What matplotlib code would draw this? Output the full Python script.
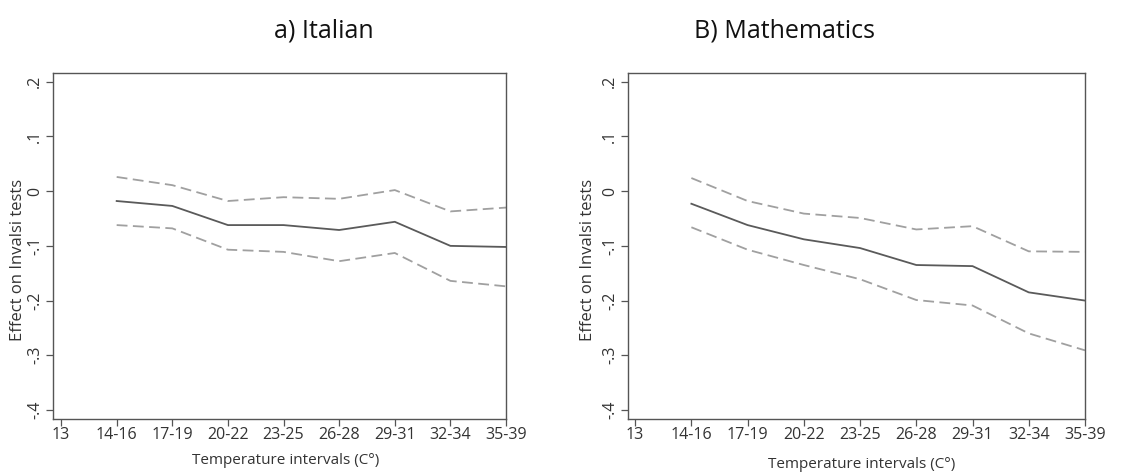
import matplotlib
matplotlib.use("Agg")
import matplotlib.pyplot as plt

categories = ["13", "14-16", "17-19", "20-22", "23-25", "26-28", "29-31", "32-34", "35-39"]
yticks = [0.2, 0.1, 0.0, -0.1, -0.2, -0.3, -0.4]
ytick_labels = [".2", ".1", "0", "-.1", "-.2", "-.3", "-.4"]

ita_est = [-0.018, -0.027, -0.062, -0.062, -0.071, -0.056, -0.100, -0.102]
ita_hi = [0.026, 0.011, -0.018, -0.011, -0.014, 0.002, -0.037, -0.030]
ita_lo = [-0.062, -0.068, -0.107, -0.111, -0.128, -0.113, -0.164, -0.174]

mat_est = [-0.023, -0.062, -0.088, -0.104, -0.135, -0.137, -0.185, -0.200]
mat_hi = [0.024, -0.018, -0.041, -0.049, -0.070, -0.064, -0.110, -0.111]
mat_lo = [-0.066, -0.107, -0.135, -0.161, -0.199, -0.209, -0.260, -0.291]

plt.rcParams['font.family'] = ['Open Sans', 'DejaVu Sans']

fig = plt.figure(figsize=(11.48, 4.72), dpi=100)
panels = [
    ("a) Italian", [0.0462, 0.1123, 0.3946, 0.733], ita_est, ita_hi, ita_lo, (-0.144, 7.128), 460, 324, -0.06),
    ("B) Mathematics", [0.5468, 0.1123, 0.3983, 0.733], mat_est, mat_hi, mat_lo, (-0.132, 7.127), 465, 784, -0.069),
]
for title, rect, est, hi, lo, xl, xlab_y, tx, ylx in panels:
    ax = fig.add_axes(rect)
    xs = list(range(1, len(categories)))
    ax.plot(xs, est, color="#5a5a5a", lw=1.3)
    ax.plot(xs, hi, color="#a0a0a0", lw=1.3, ls=(0, (6, 3)))
    ax.plot(xs, lo, color="#a0a0a0", lw=1.3, ls=(0, (6, 3)))
    ax.set_xlim(*xl)
    ax.set_ylim(-0.4165, 0.216)
    ax.set_xticks(range(len(categories)))
    ax.set_xticklabels(categories, fontsize=11.5, color="#333333")
    ax.set_yticks(yticks)
    ax.set_yticklabels(ytick_labels, rotation=90, va="center", fontsize=11.5, color="#333333")
    ax.tick_params(axis="x", length=5, color="#555555", width=0.9, pad=1)
    ax.tick_params(axis="y", length=5, color="#555555", width=0.9, pad=2)
    for s in ax.spines.values():
        s.set_color("#555555")
        s.set_linewidth(1.0)
    ax.set_ylabel("Effect on Invalsi tests", fontsize=12, color="#333333")
    ax.yaxis.set_label_coords(ylx, 0.46)
    fig.text(rect[0] + rect[2] / 2 + 0.005, 1 - xlab_y / 472, "Temperature intervals (C°)",
             ha="center", va="center", fontsize=11, color="#333333")
    fig.text(tx / 1148, 1 - 31 / 472, title, ha="center", va="center", fontsize=18, color="#111111")

fig.savefig("out.png", dpi=100)
